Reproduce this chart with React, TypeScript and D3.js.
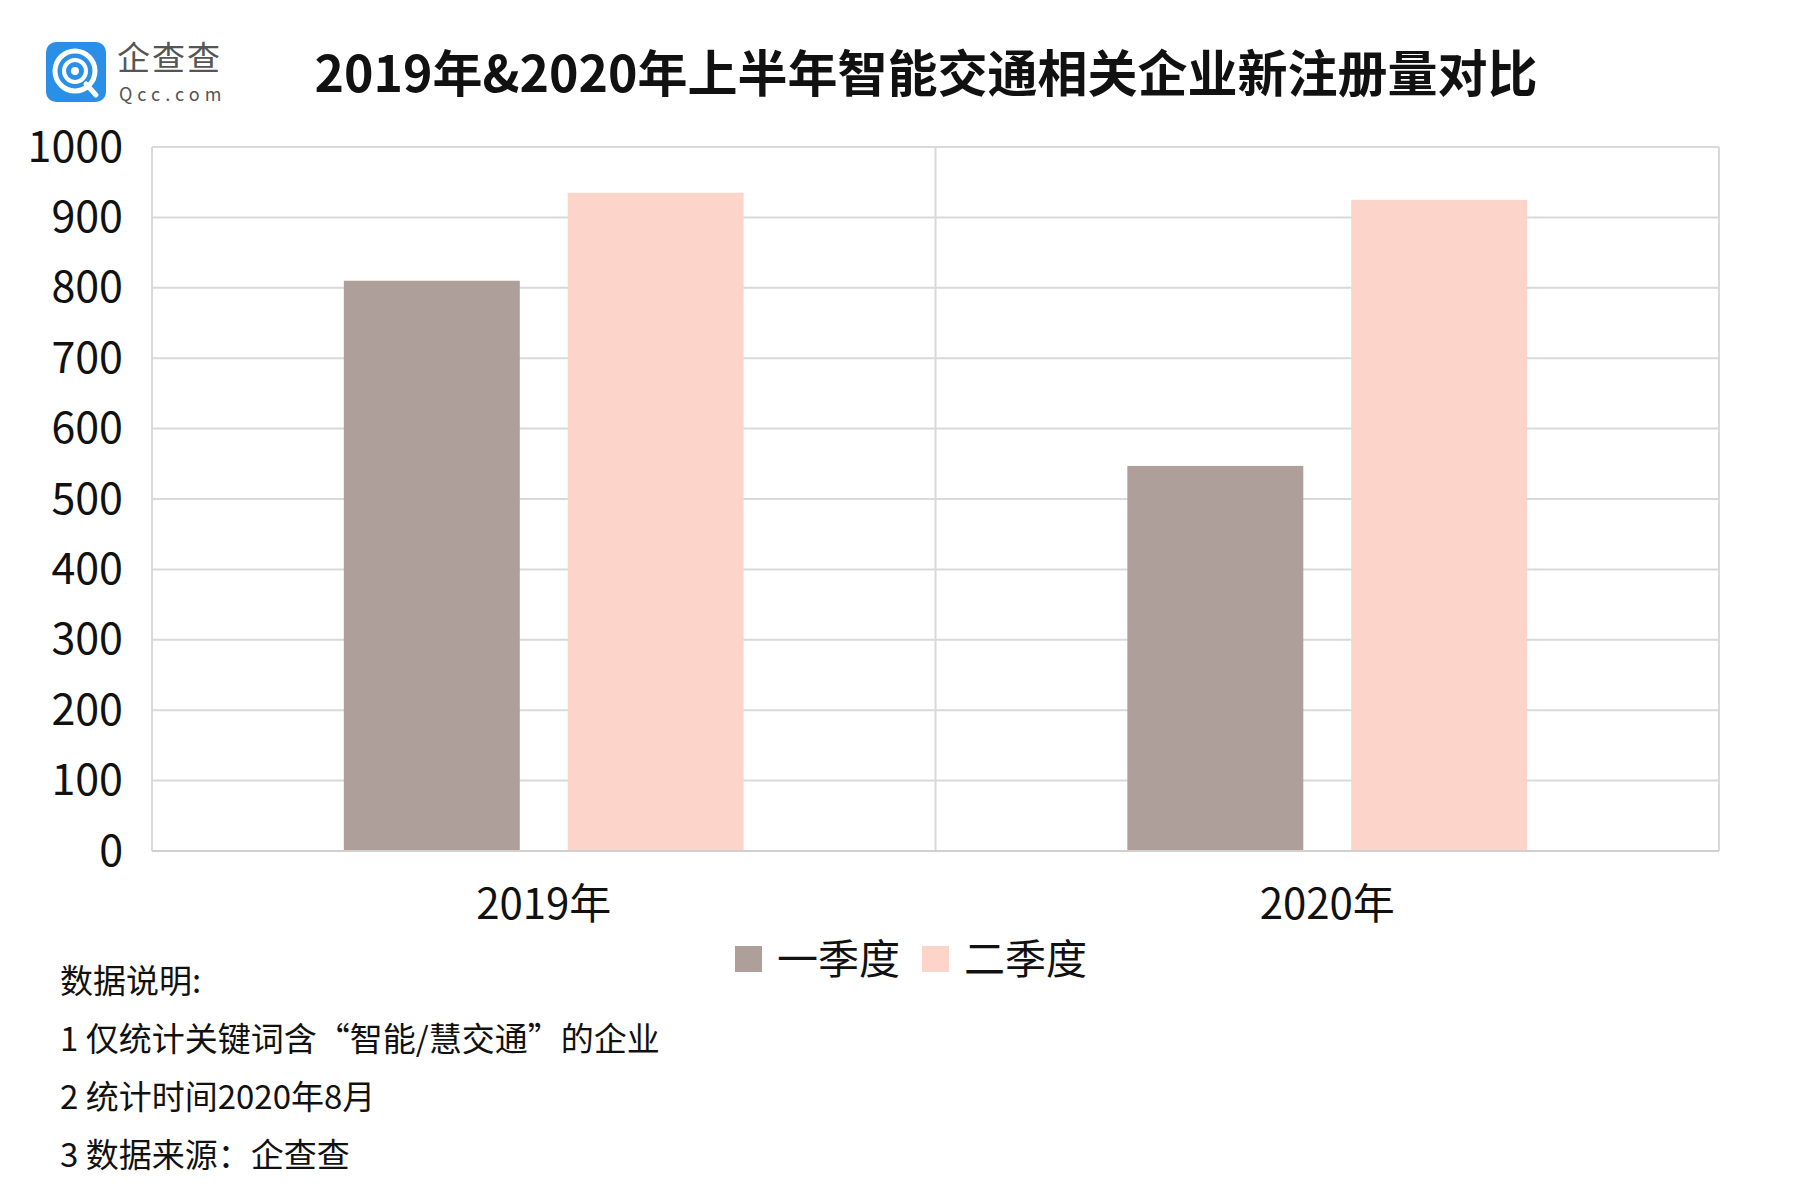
import React from 'react';
import * as d3 from 'd3';

const years = ['2019年', '2020年'];
const seriesNames = ['一季度', '二季度'];
const q1Values = [810, 547];
const q2Values = [935, 925];
const yTicks = [0, 100, 200, 300, 400, 500, 600, 700, 800, 900, 1000];
const notes = ['数据说明:', '1 仅统计关键词含“智能/慧交通”的企业', '2 统计时间2020年8月', '3 数据来源：企查查'];

const colors = ['#AE9F9A', '#FDD4C9'];
const font = '"Noto Sans CJK SC", "Noto Sans", sans-serif';

const App: React.FC = () => {
    const left = 152, right = 1719, top = 147, bottom = 851;
    const x0 = d3.scaleBand().domain(years).range([left, right]).padding(0);
    const x1 = d3.scaleBand().domain(seriesNames).range([0, x0.bandwidth()])
        .paddingInner(0.214).paddingOuter(0.857);
    const y = d3.scaleLinear().domain([0, 1000]).range([bottom, top]);
    const values = [q1Values, q2Values];

    return (
        <svg width={1793} height={1200} style={{position: 'absolute', left: 0, top: 0, background: '#fff'}}
             fontFamily={font}>
            {/* logo */}
            <g>
                <rect x={46} y={42} width={60} height={60} rx={10} fill="#2A8FE6" />
                <circle cx={75} cy={71} r={20} fill="none" stroke="#fff" strokeWidth={5} />
                <circle cx={75} cy={71} r={11} fill="none" stroke="#fff" strokeWidth={4} />
                <circle cx={75} cy={71} r={4} fill="#fff" />
                <line x1={86} y1={84} x2={96} y2={95} stroke="#fff" strokeWidth={5} strokeLinecap="round" />
                <text x={117} y={70} fontSize={33} fill="#555" letterSpacing={2}>企查查</text>
                <text x={119} y={101} fontSize={18} fill="#555" letterSpacing={5}>Qcc.com</text>
            </g>
            <text x={926} y={92} textAnchor="middle" fontSize={50} fontWeight={700} fill="#111">
                2019年&2020年上半年智能交通相关企业新注册量对比
            </text>

            {/* grid */}
            {yTicks.map((t) => (
                <g key={t}>
                    <line x1={left} x2={right} y1={y(t)} y2={y(t)} stroke="#D9D9D9" strokeWidth={2} />
                    <text x={123} y={y(t)} dy="0.34em" textAnchor="end" fontSize={43} fill="#111">{t}</text>
                </g>
            ))}
            {years.map((yr) => (
                <line key={yr} x1={x0(yr)!} x2={x0(yr)!} y1={top} y2={bottom} stroke="#D9D9D9" strokeWidth={2} />
            ))}
            <line x1={right} x2={right} y1={top} y2={bottom} stroke="#D9D9D9" strokeWidth={2} />

            {/* bars */}
            {years.map((yr, i) => (
                <g key={yr} transform={`translate(${x0(yr)},0)`}>
                    {seriesNames.map((s, j) => (
                        <rect key={s} x={x1(s)!} y={y(values[j][i])} width={x1.bandwidth()}
                              height={bottom - y(values[j][i])} fill={colors[j]} />
                    ))}
                </g>
            ))}
            <line x1={left} x2={right} y1={bottom} y2={bottom} stroke="#D0D0D0" strokeWidth={2} />

            {years.map((yr) => (
                <text key={yr} x={x0(yr)! + x0.bandwidth() / 2} y={919} textAnchor="middle" fontSize={42} fill="#111">{yr}</text>
            ))}

            {/* legend */}
            {seriesNames.map((s, j) => (
                <g key={s} transform={`translate(${735 + j * 187},946)`}>
                    <rect x={0} y={0} width={27} height={26} fill={colors[j]} />
                    <text x={42} y={28} fontSize={41} fill="#111">{s}</text>
                </g>
            ))}

            {/* notes */}
            {notes.map((n, i) => (
                <text key={i} x={60} y={993 + i * 58} fontSize={33} fill="#111">{n}</text>
            ))}
        </svg>
    );
};

export default App;
